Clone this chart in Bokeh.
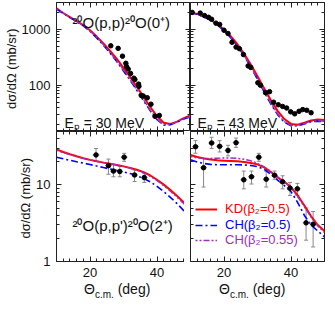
import math
from bokeh.plotting import figure
from bokeh.layouts import gridplot, column, row
from bokeh.models import (Range1d, FixedTicker, LinearAxis, LogAxis, Label, Legend, LegendItem,
                          CustomJSTickFormatter, Whisker, ColumnDataSource, TeeHead, Div)
from bokeh.embed import file_html
from bokeh.resources import INLINE

# ---------------- data ----------------
theta = [10, 12, 14, 16, 18, 20, 22, 24, 26, 28, 30, 32, 34, 36, 38, 40, 42, 44, 46, 48, 50]

# 20O(p,p) elastic, Ep = 30 MeV
el30_kd = [2350, 1950, 1650, 1400, 1180, 960, 740, 560, 410, 295, 205, 140, 94, 62, 41, 28, 21.5, 20.5, 22.5, 26, 29]
el30_ch05 = [2300, 1920, 1620, 1370, 1150, 920, 700, 520, 375, 265, 180, 122, 81, 53, 35, 24.5, 19.5, 19.8, 22, 25, 27.5]
el30_ch055 = [2310, 1930, 1630, 1380, 1160, 930, 712, 530, 385, 272, 186, 126, 84, 55, 36, 25, 19.8, 20, 22.2, 25.3, 27.8]
el30_x = [26.2, 28.4, 29.7, 30.7, 30.9, 31.4, 32.1, 33.1, 33.4, 34.5, 34.6, 35.3, 35.9, 37.1, 38.2, 39.4, 40.7]
el30_y = [507, 456, 331, 247, 216, 195, 163, 134, 127, 105, 96, 66, 64.5, 60, 46, 28, 29]

# 20O(p,p) elastic, Ep = 43 MeV
el43_kd = [2000, 1880, 1700, 1480, 1240, 990, 750, 540, 365, 235, 145, 88, 54, 35, 25, 20.5, 19.8, 21.5, 23.5, 24.5, 24]
el43_ch05 = [1980, 1850, 1660, 1440, 1200, 950, 705, 500, 335, 212, 128, 76, 46, 30, 22, 19, 19, 20.5, 22.5, 23, 22.5]
el43_ch055 = [1985, 1860, 1670, 1450, 1210, 960, 715, 510, 342, 218, 132, 79, 48, 31, 22.5, 19.3, 19.2, 20.8, 22.8, 23.3, 22.8]
el43_x = [10.5, 12.9, 14.2, 15.4, 16.3, 17.6, 18.7, 20.0, 21.2, 22.4, 23.6, 24.6, 25.8, 27.2, 28.0, 30.1, 30.9,
          32.4, 33.6, 34.8, 36.2, 37.5, 38.7, 39.9, 41.1, 42.4, 43.5, 44.7, 46.0]
el43_y = [1995, 1941, 1750, 1633, 1507, 1285, 1221, 961, 840, 586, 480, 450, 354, 222, 208, 111, 100,
          74, 77, 50, 45, 42, 39.4, 33.6, 31, 34.4, 36.9, 35.9, 32.4]

# 20O(p,p') inelastic 2+, Ep = 30 MeV
in30_kd = [29.2, 27, 25.2, 23.7, 22.4, 21.3, 20.4, 19.6, 18.9, 18.2, 17.5, 16.7, 15.8, 14.7, 13.3, 11.7, 10.1, 8.6, 7.2, 5.9, 4.8]
in30_ch05 = [23.1, 22, 21, 20.1, 19.3, 18.5, 17.7, 16.9, 16.2, 15.5, 14.8, 14.1, 13.2, 12.2, 11.0, 9.6, 8.2, 6.9, 5.7, 4.6, 3.8]
in30_ch055 = [28.4, 26.5, 24.9, 23.5, 22.3, 21.3, 20.4, 19.7, 19.0, 18.3, 17.5, 16.6, 15.6, 14.4, 13.0, 11.4, 9.8, 8.3, 6.9, 5.7, 4.7]
in30_x = [21.8, 25.5, 27.0, 28.9, 30.2, 33.3, 36.2]
in30_y = [24.7, 17.9, 15.2, 15.0, 23.1, 13.5, 12.5]
in30_hi = [30, 21.8, 18.5, 17.5, 25.9, 15.7, 14.2]
in30_lo = [20.4, 13.8, 12.8, 12.8, 20.4, 11.1, 10.8]
in30_xlo = [20.8, 24.5, 26.0, 27.9, 29.2, 32.3, 35.2]
in30_xhi = [22.8, 26.5, 28.0, 29.9, 31.2, 34.3, 37.2]

# 20O(p,p') inelastic 2+, Ep = 43 MeV
in43_kd = [24.7, 23.2, 22.2, 21.5, 21.0, 20.8, 20.6, 20.4, 20.0, 19.4, 18.6, 17.0, 14.8, 12.6, 11.0, 9.4, 7.3, 5.4, 3.9, 3.0, 2.5]
in43_ch05 = [21.3, 20.0, 19.1, 18.6, 18.4, 18.4, 18.4, 18.4, 18.3, 18.0, 17.4, 16.0, 13.8, 11.6, 9.8, 8.2, 5.9, 4.0, 3.0, 2.5, 2.1]
in43_ch055 = [23.5, 22.6, 22.3, 22.3, 22.4, 22.5, 22.5, 22.3, 21.7, 20.7, 19.2, 17.3, 15.0, 12.8, 11.0, 9.2, 7.0, 5.2, 3.8, 2.9, 2.4]
in43_x = [11.5, 13.9, 16.3, 18.7, 21.2, 23.6, 25.9, 28.2, 30.4, 32.6, 35.1, 37.5, 39.7, 41.9, 44.5, 46.6]
in43_y = [31.6, 16.8, 35.4, 32.0, 28.3, 35.7, 11.7, 12.8, 23.1, 11.9, 13.4, 11.0, 9.1, 8.9, 3.2, 3.06]
in43_hi = [38, 22.4, 42, 38, 33, 41, 15.2, 15.2, 25.9, 15.2, 15.2, 13.2, 10.8, 10.5, 5.0, 4.5]
in43_lo = [26, 9.4, 30, 27, 24, 31, 8.9, 10.3, 20.4, 9.4, 11.9, 8.9, 7.3, 7.3, 1.9, 1.55]
in43_xlo = [10.5, 12.9, 15.3, 17.7, 20.2, 22.6, 24.9, 27.2, 29.4, 31.6, 34.1, 36.5, 38.7, 40.9, 43.5, 45.6]
in43_xhi = [12.5, 14.9, 17.3, 19.7, 22.2, 24.6, 26.9, 29.2, 31.4, 33.6, 36.1, 38.5, 40.7, 42.9, 45.5, 47.6]

x_major = [20, 40]
x_minor = [10, 12, 14, 16, 18, 22, 24, 26, 28, 30, 32, 34, 36, 38, 42, 44, 46, 48, 50]
top_major = [100, 1000]
top_minor = [20, 30, 40, 50, 60, 70, 80, 90, 200, 300, 400, 500, 600, 700, 800, 900, 2000, 3000]
bot_major = [1, 10]
bot_minor = [2, 3, 4, 5, 6, 7, 8, 9, 20, 30, 40, 50]

legend_labels = ["KD(β₂=0.5)", "CH(β₂=0.5)", "CH(β₂=0.55)"]
y_title = "dσ/dΩ  (mb/sr)"

# ---------------- style ----------------
FONT = "Liberation Sans"
RED = "#ff0000"
BLUE = "#0000ff"
PURPLE = "#a030b8"
FW, FH_TOP, FH_BOT = 134, 129, 130
LB, BB = 50, 20


def style_axis(ax, major, minor, labels):
    ax.ticker = FixedTicker(ticks=major, minor_ticks=minor)
    ax.major_tick_in = 5
    ax.major_tick_out = 0
    ax.minor_tick_in = 3
    ax.minor_tick_out = 0
    ax.axis_line_color = None
    ax.major_tick_line_color = "#222222"
    ax.minor_tick_line_color = "#222222"
    if labels:
        ax.formatter = CustomJSTickFormatter(code="return String(tick)")
        ax.major_label_text_font = FONT
        ax.major_label_text_font_size = "13px"
        ax.major_label_text_color = "#111111"
        ax.major_label_standoff = 6
    else:
        ax.formatter = CustomJSTickFormatter(code="return ''")
        ax.major_label_text_font_size = "0px"
        ax.major_label_standoff = 0


def make_fig(y0, y1, fh, ymaj, ymin, left_labels, bottom_labels, bl, bb, bt, br):
    p = figure(frame_width=FW, frame_height=fh, x_range=Range1d(10, 50), y_range=Range1d(y0, y1),
               y_axis_type="log", x_axis_location=None, y_axis_location=None,
               output_backend="svg", toolbar_location=None,
               min_border_left=bl, min_border_right=br, min_border_top=bt, min_border_bottom=bb,
               background_fill_color="white", border_fill_color="white")
    p.outline_line_color = "#222222"
    p.outline_line_width = 1
    p.xgrid.visible = False
    p.ygrid.visible = False
    la = LogAxis(); style_axis(la, ymaj, ymin, left_labels)
    if left_labels:
        la.axis_label = y_title
        la.axis_label_text_font = FONT
        la.axis_label_text_font_size = "13px"
        la.axis_label_text_font_style = "normal"
        la.axis_label_text_color = "#111111"
        la.axis_label_standoff = 0
    p.add_layout(la, "left")
    ra = LogAxis(); style_axis(ra, ymaj, ymin, False); p.add_layout(ra, "right")
    ba = LinearAxis(); style_axis(ba, x_major, x_minor, bottom_labels); p.add_layout(ba, "below")
    ta = LinearAxis(); style_axis(ta, x_major, x_minor, False); p.add_layout(ta, "above")
    return p


def curves(p, kd, ch05, ch055):
    r1 = p.line(theta, kd, line_color=RED, line_width=2)
    r2 = p.line(theta, ch05, line_color=BLUE, line_width=1.6, line_dash="7 3 2 3")
    r3 = p.line(theta, ch055, line_color=PURPLE, line_width=1.4, line_dash="2 2 2 2 6 2")
    return r1, r2, r3


def text(p, x, y, s, size="14px", **kw):
    p.add_layout(Label(x=x, y=y, x_units="screen", y_units="screen", text=s,
                       text_font=FONT, text_font_size=size, text_color="#111111", **kw))


def errbars(p, src):
    p.add_layout(Whisker(source=src, base="x", upper="hi", lower="lo", line_color="#888888",
                         upper_head=TeeHead(size=4, line_color="#888888"),
                         lower_head=TeeHead(size=4, line_color="#888888")))
    p.segment(x0="xlo", x1="xhi", y0="y", y1="y", source=src, line_color="#888888")
    p.scatter("x", "y", source=src, size=4.5, color="black")


# top-left: elastic 30 MeV
tl = make_fig(15, 3000, FH_TOP, top_major, top_minor, True, False, LB, 0, 2, 0)
curves(tl, el30_kd, el30_ch05, el30_ch055)
tl.scatter(el30_x, el30_y, size=4.5, color="black")
text(tl, 16, 109, "²⁰O(p,p)²⁰O(0⁺)", "15px", text_baseline="alphabetic")
text(tl, 8, 9, "Eₚ = 30 MeV", "14px", text_baseline="alphabetic")

# top-right: elastic 43 MeV
tr = make_fig(15, 3000, FH_TOP, top_major, top_minor, False, False, 0, 0, 2, 1)
curves(tr, el43_kd, el43_ch05, el43_ch055)
tr.scatter(el43_x, el43_y, size=4.5, color="black")
text(tr, 7, 9, "Eₚ = 43 MeV", "14px", text_baseline="alphabetic")

# bottom-left: inelastic 30 MeV
bl = make_fig(1, 50, FH_BOT, bot_major, bot_minor, True, True, LB, BB, 0, 0)
curves(bl, in30_kd, in30_ch05, in30_ch055)
errbars(bl, ColumnDataSource(dict(x=in30_x, y=in30_y, hi=in30_hi, lo=in30_lo, xlo=in30_xlo, xhi=in30_xhi)))
text(bl, 16, 36, "²⁰O(p,p')²⁰O(2⁺)", "15px", text_baseline="alphabetic")

# bottom-right: inelastic 43 MeV
br = make_fig(1, 50, FH_BOT, bot_major, bot_minor, False, True, 0, BB, 0, 1)
rk, rc, rp = curves(br, in43_kd, in43_ch05, in43_ch055)
errbars(br, ColumnDataSource(dict(x=in43_x, y=in43_y, hi=in43_hi, lo=in43_lo, xlo=in43_xlo, xhi=in43_xhi)))

for lab, r, col, ypos in zip(legend_labels, [rk, rc, rp], [RED, BLUE, PURPLE], [45, 29, 14]):
    leg = Legend(items=[LegendItem(label=lab, renderers=[r])], location=(5, ypos),
                 label_text_color=col, label_text_font=FONT, label_text_font_size="13px",
                 glyph_width=22, glyph_height=14, label_height=14, label_standoff=8,
                 padding=0, margin=0, spacing=0, border_line_color=None,
                 background_fill_alpha=0)
    br.add_layout(leg)

grid = gridplot([[tl, tr], [bl, br]], toolbar_location=None)

XL = ('<div style="font-family:\'Liberation Sans\';font-size:14px;line-height:17px;'
      'color:#111;white-space:nowrap;padding-left:{pad}px">&Theta;'
      '<span style="font-size:10px;position:relative;top:4px">c.m.</span> (deg)</div>')
d1 = Div(text=XL.format(pad=LB + 34), width=LB + FW, height=17, margin=0)
d2 = Div(text=XL.format(pad=35), width=FW + 1, height=17, margin=0)

page = column(grid, row(d1, d2, spacing=0), spacing=0)

open("out.html", "w").write(file_html(page, INLINE))
